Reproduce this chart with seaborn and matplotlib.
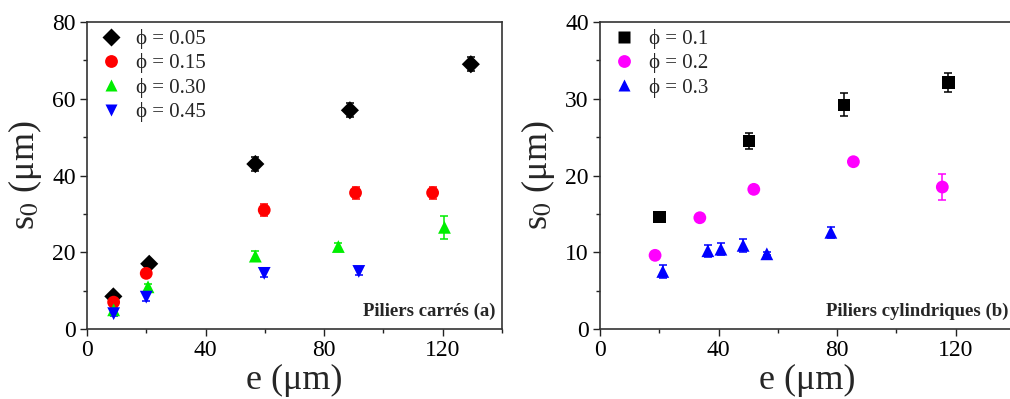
import pandas as pd
import seaborn as sns
import matplotlib.pyplot as plt
from matplotlib.ticker import MultipleLocator

# (a) piliers carrés
phi_a = ['0.05', '0.15', '0.30', '0.45']
e_a = {
    '0.05': [8.9, 21.0, 56.8, 88.7, 129.5],
    '0.15': [9.0, 20.0, 59.8, 90.6, 116.6],
    '0.30': [9.0, 20.6, 56.8, 84.8, 120.6],
    '0.45': [9.0, 20.0, 59.8, 91.7],
}
s_a = {
    '0.05': [8.5, 17.0, 43.0, 57.0, 69.0],
    '0.15': [7.0, 14.5, 31.0, 35.5, 35.5],
    '0.30': [5.0, 11.0, 19.0, 21.5, 26.5],
    '0.45': [4.0, 8.3, 14.5, 15.0],
}
err_a = {
    '0.05': [0.8, 1.0, 1.8, 1.8, 1.8],
    '0.15': [0.5, 0.5, 1.5, 1.5, 1.5],
    '0.30': [0.5, 0.8, 1.3, 1.0, 3.0],
    '0.45': [0.5, 1.0, 1.0, 1.0],
}

# (b) piliers cylindriques
phi_b = ['0.1', '0.2', '0.3']
e_b = {
    '0.1': [20.2, 50.3, 82.3, 117.5],
    '0.2': [18.6, 33.7, 51.9, 85.5, 115.5],
    '0.3': [21.2, 36.4, 40.8, 48.3, 56.3, 77.9],
}
s_b = {
    '0.1': [14.6, 24.5, 29.2, 32.1],
    '0.2': [9.6, 14.5, 18.2, 21.8, 18.5],
    '0.3': [7.5, 10.2, 10.4, 10.9, 9.8, 12.6],
}
err_b = {
    '0.1': [0.3, 1.0, 1.5, 1.2],
    '0.2': [0.2, 0.2, 0.2, 0.2, 1.7],
    '0.3': [0.8, 0.8, 0.8, 0.8, 0.2, 0.7],
}

colors_a = {'0.05': 'black', '0.15': '#ff0000', '0.30': '#00ee00', '0.45': '#0000ff'}
markers_a = {'0.05': 'D', '0.15': 'o', '0.30': '^', '0.45': 'v'}
colors_b = {'0.1': 'black', '0.2': '#ff00ff', '0.3': '#0000ff'}
markers_b = {'0.1': 's', '0.2': 'o', '0.3': '^'}


def to_df(phis, e, s, err):
    rows = []
    for p in phis:
        for x, y, d in zip(e[p], s[p], err[p]):
            rows.append({'phi': p, 'e': x, 's': y, 'err': d})
    return pd.DataFrame(rows)


sns.set_theme(style="ticks")
plt.rcParams['font.family'] = ['Liberation Serif', 'DejaVu Serif']
plt.rcParams['mathtext.fontset'] = 'stix'

fig = plt.figure(figsize=(10.1, 3.99), dpi=100)
ax1 = fig.add_axes([0.0861, 0.1754, 0.4109, 0.7694])
ax2 = fig.add_axes([0.594, 0.1754, 0.4109, 0.7694])

panels = [
    (ax1, to_df(phi_a, e_a, s_a, err_a), phi_a, colors_a, markers_a, 80, 'Piliers carrés (a)', 20, 0.985),
    (ax2, to_df(phi_b, e_b, s_b, err_b), phi_b, colors_b, markers_b, 40, 'Piliers cylindriques (b)', 10, 0.985),
]

for ax, df, phis, cols, mks, ymax, tag, ystep, tx in panels:
    for p in phis:
        sub = df[df.phi == p]
        ax.errorbar(sub.e, sub.s, yerr=sub.err, fmt='none', ecolor=cols[p],
                    elinewidth=1.1, capsize=3, capthick=1.1, zorder=2)
    sns.scatterplot(data=df, x='e', y='s', hue='phi', style='phi',
                    palette=cols, markers=mks, hue_order=phis, style_order=phis,
                    s=85, edgecolor='none', ax=ax, zorder=3)
    h, l = ax.get_legend_handles_labels()
    ax.legend(h, ['ϕ = ' + p for p in phis], loc='upper left', frameon=False,
              fontsize=15, handletextpad=0.4, borderaxespad=0.15, labelspacing=0.2,
              handlelength=1.6, borderpad=0.2)
    ax.set_xlim(0, 140)
    ax.set_ylim(0, ymax)
    ax.xaxis.set_major_locator(MultipleLocator(40))
    ax.xaxis.set_minor_locator(MultipleLocator(20))
    ax.yaxis.set_major_locator(MultipleLocator(ystep))
    ax.yaxis.set_minor_locator(MultipleLocator(ystep / 2))
    ax.tick_params(which='major', direction='out', length=5, width=1, labelsize=17,
                   colors='#222222', labelcolor='black', pad=3)
    ax.tick_params(which='minor', direction='out', length=3, width=1, colors='#222222')
    for sp in ax.spines.values():
        sp.set_visible(True)
        sp.set_color('#333333')
        sp.set_linewidth(1.2)
    ax.set_xlabel('e (μm)', fontsize=26, labelpad=2)
    ax.set_ylabel('s$_0$ (μm)', fontsize=26, labelpad=6)
    ax.text(tx, 0.03, tag, transform=ax.transAxes, ha='right', va='bottom',
            fontsize=13.5, fontweight='bold')

fig.savefig('out.png', dpi=100)
